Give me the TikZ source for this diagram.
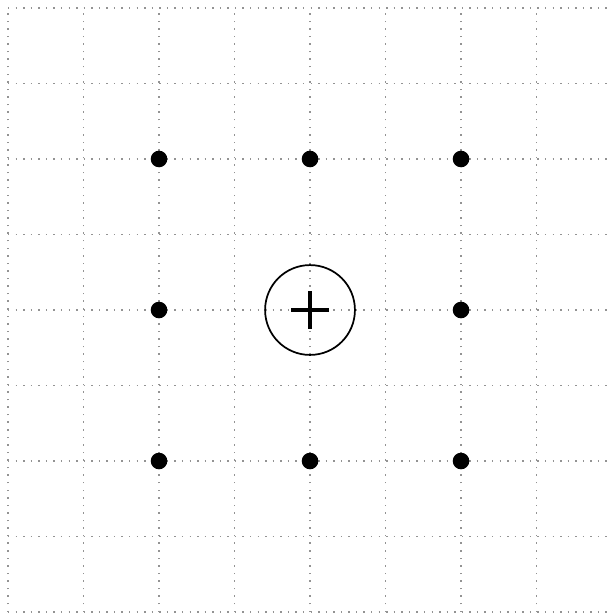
\documentclass[tikz,border=0pt]{standalone}
\begin{document}
\begin{tikzpicture}[
  gridline/.style={gray!85, line width=0.55pt, dash pattern=on 0.55pt off 2.3pt},
  pt/.style={circle, fill=black, inner sep=0pt, minimum size=0.22cm},
  ring/.style={circle, draw=black, line width=0.65pt, inner sep=0pt, minimum size=1.19cm},
  cross/.style={line width=1.3pt}
]
\useasboundingbox (-4.106,-4.013) rectangle (3.974,4.106);
\draw[gridline] (-4,-4) grid (4,4);
\node[ring] (c) at (0,0) {};
\draw[cross] ([xshift=-0.25cm]c.center) -- ([xshift=0.25cm]c.center);
\draw[cross] ([yshift=-0.25cm]c.center) -- ([yshift=0.25cm]c.center);
\node[pt] (p1) at (-2,2) {};
\node[pt] (p2) at (0,2) {};
\node[pt] (p3) at (2,2) {};
\node[pt] (p4) at (-2,0) {};
\node[pt] (p5) at (2,0) {};
\node[pt] (p6) at (-2,-2) {};
\node[pt] (p7) at (0,-2) {};
\node[pt] (p8) at (2,-2) {};
\end{tikzpicture}
\end{document}
